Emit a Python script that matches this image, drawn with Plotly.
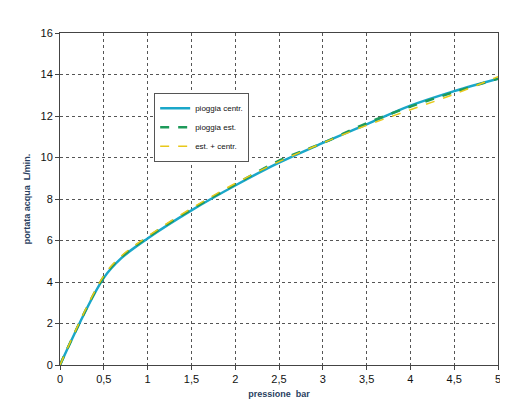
import plotly.graph_objects as go

x = [0, 0.5, 0.7, 1, 1.5, 2, 2.5, 3, 3.5, 4, 4.5, 5]
centr = [0, 4.2, 5.15, 6.1, 7.45, 8.65, 9.75, 10.7, 11.6, 12.5, 13.2, 13.8]
est = [0, 4.25, 5.2, 6.15, 7.5, 8.7, 9.85, 10.7, 11.65, 12.45, 13.15, 13.8]
estc = [0, 4.3, 5.25, 6.2, 7.55, 8.75, 9.8, 10.7, 11.55, 12.3, 13.05, 13.9]

fig = go.Figure()
fig.add_trace(go.Scatter(x=x, y=centr, mode="lines", name="pioggia centr.",
                         line=dict(color="#1AA7C9", width=2.5, shape="spline")))
fig.add_trace(go.Scatter(x=x, y=est, mode="lines", name="pioggia est.",
                         line=dict(color="#1E9A5A", width=2.5, dash="dash", shape="spline")))
fig.add_trace(go.Scatter(x=x, y=estc, mode="lines", name="est. + centr.",
                         line=dict(color="#E8C81A", width=1.5, dash="dash", shape="spline")))

ax = dict(showgrid=True, gridcolor="#555", griddash="dot", gridwidth=1,
          showline=True, linecolor="#444", mirror=True, zeroline=False,
          ticks="outside", ticklen=4, tickcolor="#444", automargin=False,
          tickfont=dict(family="Liberation Sans", size=11, color="#111"))
fig.update_layout(
    width=508, height=405, paper_bgcolor="white", plot_bgcolor="white",
    margin=dict(l=52, r=18, t=25, b=48), showlegend=True,
    legend=dict(x=0.215, y=0.82, xanchor="left", yanchor="top",
                bordercolor="#555", borderwidth=1, bgcolor="white",
                font=dict(family="Liberation Sans", size=8, color="#111")),
    xaxis=dict(ax, range=[0, 5], tickvals=[0, 0.5, 1, 1.5, 2, 2.5, 3, 3.5, 4, 4.5, 5],
               ticktext=["0", "0,5", "1", "1,5", "2", "2,5", "3", "3,5", "4", "4,5", "5"],
               title=dict(text="<b>pressione  bar</b>", font=dict(family="Liberation Sans", size=9), standoff=6)),
    yaxis=dict(ax, range=[0, 16], dtick=2,
               title=dict(text="<b>portata acqua  L/min.</b>", font=dict(family="Liberation Sans", size=9), standoff=8)),
)
fig.write_html("out.html")
